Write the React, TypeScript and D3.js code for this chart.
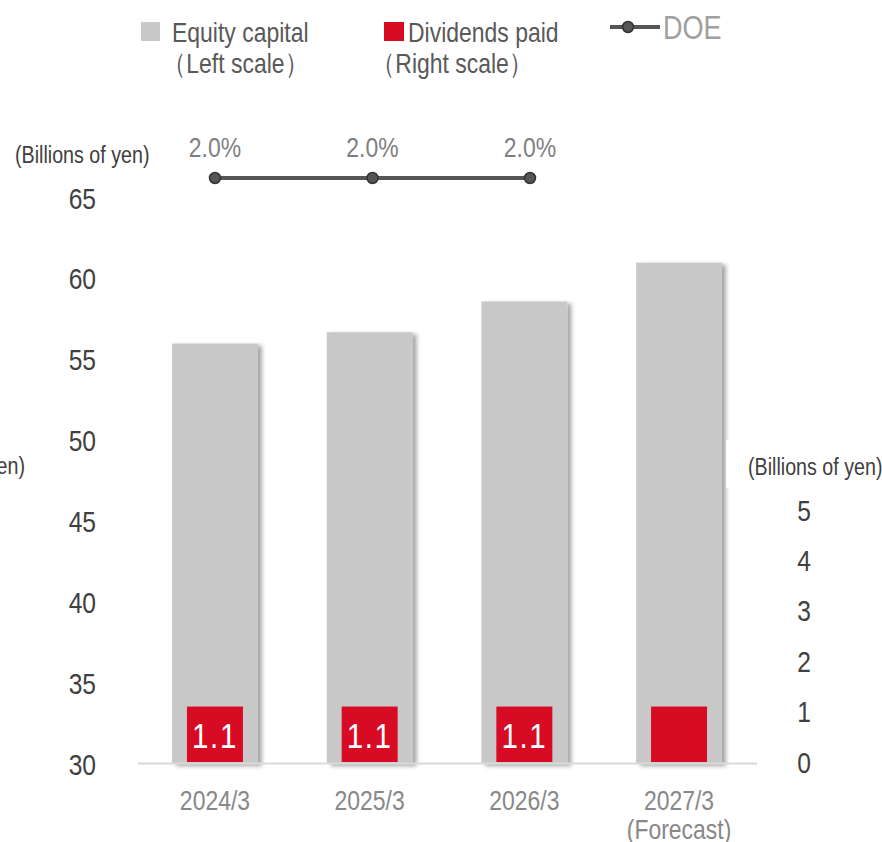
import React from "react";
import * as d3 from "d3";

const categories = ["2024/3", "2025/3", "2026/3", "2027/3"];
const categorySub = ["", "", "", "(Forecast)"];
const equityCapital = [56.0, 56.7, 58.6, 61.0];
const dividendsPaid = [1.1, 1.1, 1.1, 1.1];
const dividendLabels = ["1.1", "1.1", "1.1", ""];
const doeCategories = ["2024/3", "2025/3", "2026/3"];
const doeValues = [2.0, 2.0, 2.0];
const leftTicks = [30, 35, 40, 45, 50, 55, 60, 65];
const rightTicks = [0, 1, 2, 3, 4, 5];

const FONT = "'Liberation Sans', Arial, sans-serif";
const GRAY = "#c8c8c8";
const RED = "#d70b24";
const SX = 0.82;

function NText(props: {
  x: number; y: number; size: number; fill: string; anchor?: "start" | "middle" | "end";
  children: React.ReactNode; letterSpacing?: number;
}) {
  return (
    <text
      transform={`translate(${props.x},${props.y}) scale(${SX},1)`}
      dy="0.35em"
      fontSize={props.size}
      fill={props.fill}
      textAnchor={props.anchor || "start"}
      letterSpacing={props.letterSpacing}
    >
      {props.children}
    </text>
  );
}

export default function App() {
  const W = 882, H = 842;
  const x = d3.scaleBand<string>().domain(categories).range([138, 756]).paddingInner(0.445).paddingOuter(0.22);
  const yL = d3.scaleLinear().domain([30, 65]).range([764, 198]);
  const yR = d3.scaleLinear().domain([0, 5]).range([762, 510]);
  const xDoe = d3.scalePoint<string>().domain(doeCategories).range([215, 530]);
  const yDoe = 178;
  const redW = 56;
  const bw = x.bandwidth();
  const line = d3.line<number>().x((_, i) => xDoe(doeCategories[i])!).y(() => yDoe);

  return (
    <svg width={W} height={H} style={{ position: "absolute", left: 0, top: 0, background: "#fff" }} fontFamily={FONT}>
      <defs>
        <filter id="sh" x="-20%" y="-5%" width="150%" height="120%">
          <feDropShadow dx="4" dy="2" stdDeviation="2" floodColor="#000" floodOpacity="0.35" />
        </filter>
      </defs>
      {/* legend */}
      <rect x={141} y={22} width={19} height={19} fill={GRAY} />
      <NText x={172} y={32} size={28} fill="#595959">Equity capital</NText>
      <NText x={163} y={63} size={28} fill="#595959">（Left scale）</NText>
      <rect x={384} y={22} width={20} height={19} fill={RED} />
      <NText x={408} y={32} size={28} fill="#595959">Dividends paid</NText>
      <NText x={372} y={63} size={28} fill="#595959">（Right scale）</NText>
      <line x1={610} x2={660} y1={27} y2={27} stroke="#555" strokeWidth={4} />
      <circle cx={628} cy={27} r={5.5} fill="#555" stroke="#333" strokeWidth={1.5} />
      <NText x={663} y={27} size={33} fill="#a0a0a0">DOE</NText>

      {/* unit labels */}
      <NText x={15} y={155} size={24} fill="#404040">(Billions of yen)</NText>
      <NText x={25} y={466} size={24} fill="#404040" anchor="end">(Billions of yen)</NText>

      {/* left axis */}
      {leftTicks.map((t) => (
        <NText key={t} x={96} y={yL(t)} anchor="end" size={30} fill="#404040">{t}</NText>
      ))}

      {/* equity bars */}
      {categories.map((c, i) => (
        <rect key={c} x={x(c)} y={yL(equityCapital[i])} width={bw} height={yL(30) - yL(equityCapital[i])} fill={GRAY} filter="url(#sh)" />
      ))}
      {/* baseline */}
      <line x1={138} x2={757} y1={763.5} y2={763.5} stroke="#d9d9d9" strokeWidth={2} />

      {/* dividends bars */}
      {categories.map((c, i) => {
        const cx = x(c)! + bw / 2;
        return (
          <g key={c}>
            <rect x={cx - redW / 2} y={yR(dividendsPaid[i])} width={redW} height={yR(0) - yR(dividendsPaid[i])} fill={RED} />
            <NText x={cx} y={(yR(dividendsPaid[i]) + yR(0)) / 2 + 1} anchor="middle" size={36} fill="#fff" letterSpacing={2}>{dividendLabels[i]}</NText>
          </g>
        );
      })}

      {/* category labels */}
      {categories.map((c, i) => (
        <g key={c}>
          <NText x={x(c)! + bw / 2} y={800} anchor="middle" size={28} fill="#888">{c}</NText>
          {categorySub[i] && (
            <NText x={x(c)! + bw / 2} y={829} anchor="middle" size={28} fill="#888">{categorySub[i]}</NText>
          )}
        </g>
      ))}

      {/* right axis */}
      <rect x={726} y={440} width={156} height={48} fill="#fff" />
      <NText x={748} y={467} size={24} fill="#404040">(Billions of yen)</NText>
      {rightTicks.map((t) => (
        <NText key={t} x={804} y={yR(t)} anchor="middle" size={30} fill="#404040">{t}</NText>
      ))}

      {/* DOE line */}
      <path d={line(doeValues) || ""} fill="none" stroke="#555" strokeWidth={4} />
      {doeCategories.map((c, i) => (
        <g key={c}>
          <circle cx={xDoe(c)} cy={yDoe} r={5.5} fill="#555" stroke="#333" strokeWidth={1.5} />
          <NText x={xDoe(c)!} y={147} anchor="middle" size={28} fill="#7f7f7f">{d3.format(".1f")(doeValues[i])}%</NText>
        </g>
      ))}
    </svg>
  );
}
